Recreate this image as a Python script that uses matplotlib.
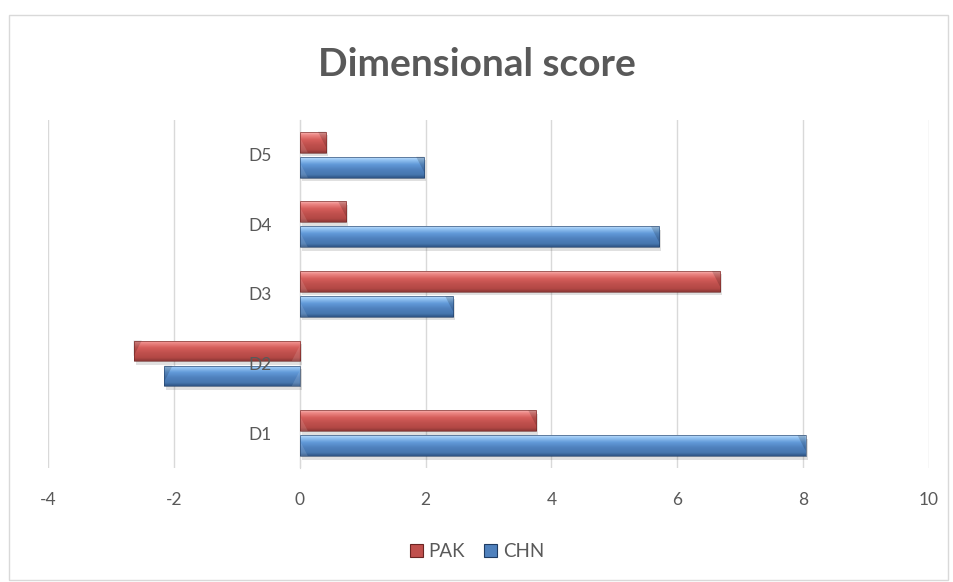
import numpy as np
import matplotlib
matplotlib.use("Agg")
import matplotlib.pyplot as plt
import matplotlib.patheffects as pe
from matplotlib.colors import LinearSegmentedColormap
from matplotlib.patches import Rectangle, Polygon

# Dimension scores per country
dimensions = ['D1', 'D2', 'D3', 'D4', 'D5']
pak = [3.76, -2.64, 6.68, 0.74, 0.42]
chn = [8.04, -2.15, 2.44, 5.71, 1.98]

plt.rcParams['font.family'] = ['Lato', 'DejaVu Sans']
plt.rcParams['axes.unicode_minus'] = False
text_grey = '#595959'

# vertical shading for the "bevel" look of each series
red_cmap = LinearSegmentedColormap.from_list('red_bevel', [
    (0.0, '#f8b8b6'), (0.12, '#ee8a87'), (0.35, '#d65f5c'),
    (0.6, '#c0504d'), (0.85, '#b24845'), (1.0, '#8a3634')])
blue_cmap = LinearSegmentedColormap.from_list('blue_bevel', [
    (0.0, '#c3e0fc'), (0.12, '#96c5f3'), (0.35, '#6199d8'),
    (0.6, '#4f81bd'), (0.85, '#4676ae'), (1.0, '#2e5383')])

fig = plt.figure(figsize=(9.54, 5.82), dpi=100)
ax = fig.add_axes([0.0503, 0.196, 0.9235, 0.598])

y = np.arange(len(dimensions))
h = 0.30
off = 0.18

grad = np.linspace(0, 1, 64).reshape(-1, 1)


def shaded_bars(values, pos, cmap, edge):
    bars = ax.barh(pos, values, height=h, color=cmap(0.6), edgecolor='none',
                   zorder=3,
                   path_effects=[pe.SimplePatchShadow(offset=(1.5, -2.5), alpha=0.18, shadow_rgbFace='#555555'),
                                 pe.Normal()])
    for b in bars:
        x0, y0 = b.get_x(), b.get_y()
        x1, y1 = x0 + b.get_width(), y0 + b.get_height()
        im = ax.imshow(grad, cmap=cmap, aspect='auto', extent=[min(x0, x1), max(x0, x1), y0, y1],
                       zorder=3.5, interpolation='bilinear')
        im.set_clip_path(b)
        # chamfered ends
        bev = 0.13 if x1 >= x0 else -0.13
        far = Polygon([(x1, y1), (x1 - bev, y1), (x1, y0 + 0.25 * h)], closed=True,
                      facecolor='black', alpha=0.16, lw=0, zorder=4)
        near = Polygon([(x0, y0), (x0 + bev, y0), (x0, y1 - 0.25 * h)], closed=True,
                       facecolor='white', alpha=0.12, lw=0, zorder=4)
        ax.add_patch(far)
        ax.add_patch(near)
        ax.add_patch(Rectangle((x0, y0), x1 - x0, y1 - y0, fill=False, edgecolor=edge,
                               linewidth=0.6, alpha=0.7, zorder=4.5))
    return bars


shaded_bars(chn, y - off, blue_cmap, '#1f3c63')
shaded_bars(pak, y + off, red_cmap, '#6b2523')

ax.set_xlim(-4, 10)
ax.set_ylim(-0.5, len(dimensions) - 0.5)
ax.set_xticks(np.arange(-4, 11, 2))
ax.set_yticks(y)
ax.set_yticklabels(dimensions)
ax.xaxis.grid(True, color='#d9d9d9', linewidth=1.0, zorder=0)
ax.set_axisbelow(True)

# category labels sit next to the zero line, drawn over the bars
ax.spines['left'].set_position(('data', 0))
ax.spines['left'].set_color('#d9d9d9')
ax.spines['left'].set_zorder(1)
for s in ['top', 'right', 'bottom']:
    ax.spines[s].set_visible(False)
ax.yaxis.set_zorder(10)
ax.tick_params(axis='y', length=0, pad=20, labelsize=12.5, labelcolor=text_grey)
ax.tick_params(axis='x', length=0, pad=17, labelsize=12.5, labelcolor=text_grey)

fig.text(0.5, 0.889, 'Dimensional score', ha='center', va='center',
         fontsize=28, fontweight='bold', color=text_grey)

# legend
handles = [Rectangle((0, 0), 1, 1, facecolor='#c0504d', edgecolor='#6b2523', lw=0.8),
           Rectangle((0, 0), 1, 1, facecolor='#4f81bd', edgecolor='#1f3c63', lw=0.8)]
fig.legend(handles, ['PAK', 'CHN'], loc='center', bbox_to_anchor=(0.5, 0.053), ncol=2,
           frameon=False, fontsize=13.5, labelcolor=text_grey, handlelength=0.7,
           handleheight=0.7, handletextpad=0.3, columnspacing=1.0)

# outer chart border
fig.patches.append(Rectangle((0.009, 0.003), 0.985, 0.972, transform=fig.transFigure,
                             fill=False, edgecolor='#d9d9d9', linewidth=1.0))

fig.savefig('out.png', dpi=100)
